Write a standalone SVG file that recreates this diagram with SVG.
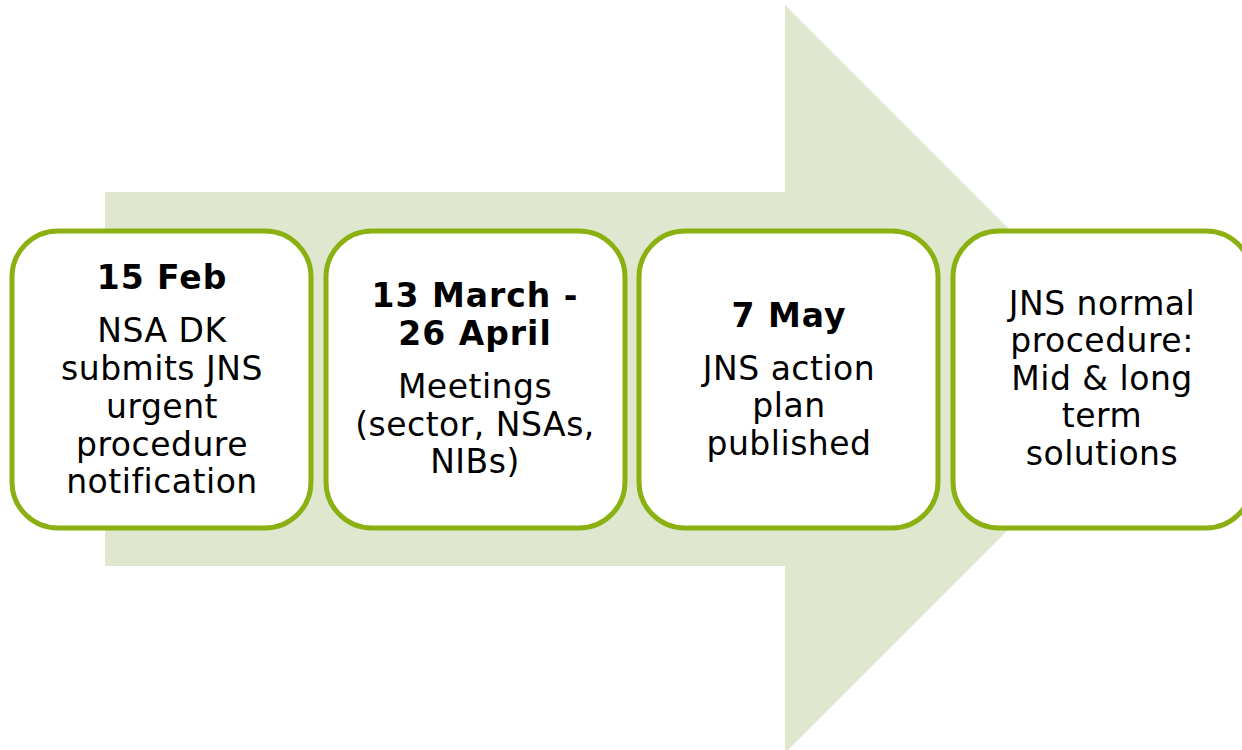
<svg xmlns="http://www.w3.org/2000/svg" width="1242" height="750" viewBox="0 0 1242 750">
<style>
.box{fill:#fff;stroke:#8BB011;stroke-width:5}
.t{font-family:"DejaVu Sans",Verdana,sans-serif;font-size:33px;fill:#000;text-anchor:middle;letter-spacing:0.5px}
.b{font-weight:bold;letter-spacing:1px}
</style>
<rect width="1242" height="750" fill="#fff"/>
<g id="arrow">
<path d="M105,192 H785 V5 L1159,379 L785,753 V566 H105 Z" fill="#DFE8CF"/>
</g>
<g id="connectors"></g>
<g id="node1">
<rect class="box" x="12" y="231" width="299" height="297" rx="46"/>
<text class="t b" x="162" y="289">15 Feb</text>
<text class="t" x="162" y="342">NSA DK</text>
<text class="t" x="162" y="380">submits JNS</text>
<text class="t" x="162" y="418">urgent</text>
<text class="t" x="162" y="456">procedure</text>
<text class="t" x="162" y="493">notification</text>
</g>
<g id="node2">
<rect class="box" x="326" y="231" width="299" height="297" rx="46"/>
<text class="t b" x="475" y="307">13 March -</text>
<text class="t b" x="475" y="345">26 April</text>
<text class="t" x="475" y="398">Meetings</text>
<text class="t" x="475" y="436">(sector, NSAs,</text>
<text class="t" x="475" y="473">NIBs)</text>
</g>
<g id="node3">
<rect class="box" x="639" y="231" width="299" height="297" rx="46"/>
<text class="t b" x="789" y="327">7 May</text>
<text class="t" x="789" y="380">JNS action</text>
<text class="t" x="789" y="417">plan</text>
<text class="t" x="789" y="455">published</text>
</g>
<g id="node4">
<rect class="box" x="953" y="231" width="299" height="297" rx="46"/>
<text class="t" x="1102" y="315">JNS normal</text>
<text class="t" x="1102" y="352">procedure:</text>
<text class="t" x="1102" y="390">Mid &amp; long</text>
<text class="t" x="1102" y="427">term</text>
<text class="t" x="1102" y="465">solutions</text>
</g>
</svg>
